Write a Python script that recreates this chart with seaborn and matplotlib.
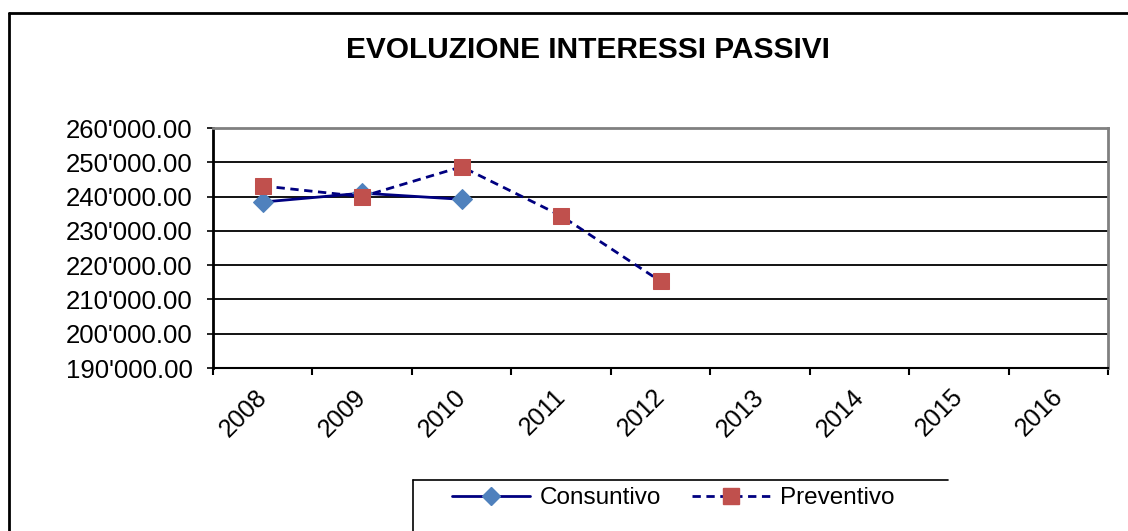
import numpy as np
import pandas as pd
import seaborn as sns
import matplotlib.pyplot as plt
from matplotlib.lines import Line2D
from matplotlib.ticker import FuncFormatter, FixedLocator
from matplotlib.transforms import ScaledTranslation

# data
years = [2008, 2009, 2010, 2011, 2012, 2013, 2014, 2015, 2016]
consuntivo_years = [2008, 2009, 2010]
consuntivo = [238400, 241000, 239200]
preventivo_years = [2008, 2009, 2010, 2011, 2012]
preventivo = [243100, 240000, 248700, 234400, 215300]
y_ticks = [190000, 200000, 210000, 220000, 230000, 240000, 250000, 260000]

NAVY = "#000080"
BLUE = "#4F81BD"
RED = "#C0504D"

sns.set_style("white")
plt.rcParams["font.family"] = ["Liberation Sans", "DejaVu Sans"]
plt.rcParams["text.color"] = "black"
plt.rcParams["xtick.color"] = "black"
plt.rcParams["ytick.color"] = "black"

fig, ax = plt.subplots(figsize=(11.28, 5.31), dpi=100)
fig.subplots_adjust(left=213 / 1128, right=1108 / 1128, top=1 - 128 / 531, bottom=1 - 368 / 531)

df_c = pd.DataFrame({"year": consuntivo_years, "value": consuntivo})
df_p = pd.DataFrame({"year": preventivo_years, "value": preventivo})

sns.lineplot(data=df_c, x="year", y="value", ax=ax, color=NAVY, linewidth=2,
             marker="D", markersize=10, markerfacecolor=BLUE, markeredgecolor=BLUE, zorder=4)
sns.lineplot(data=df_p, x="year", y="value", ax=ax, color=NAVY, linewidth=2,
             linestyle=(0, (3, 2)), marker="s", markersize=12,
             markerfacecolor=RED, markeredgecolor=RED, zorder=5)

ax.set_xlim(years[0] - 0.5, years[-1] + 0.5)
ax.set_ylim(y_ticks[0], y_ticks[-1])
ax.set_xlabel("")
ax.set_ylabel("")

# category axis: ticks at the boundaries, labels at the centres
ax.xaxis.set_major_locator(FixedLocator([y - 0.5 for y in years] + [years[-1] + 0.5]))
ax.xaxis.set_minor_locator(FixedLocator(years))
ax.set_xticklabels([], minor=False)
ax.set_xticklabels([str(y) for y in years], minor=True, rotation=45, ha="right")
ax.tick_params(axis="x", which="major", length=5, width=1.5, color="black", direction="out", bottom=True)
ax.tick_params(axis="x", which="minor", length=0, pad=12, labelsize=18)
shift = ScaledTranslation(9 / 100, 0, fig.dpi_scale_trans)
for lbl in ax.get_xticklabels(minor=True):
    lbl.set_transform(lbl.get_transform() + shift)

ax.set_yticks(y_ticks)
ax.yaxis.set_major_formatter(FuncFormatter(lambda v, p: f"{v:,.2f}".replace(",", "'")))
ax.tick_params(axis="y", length=4.5, width=1.2, color="black", direction="out", left=True, pad=10, labelsize=18.5)

ax.grid(axis="y", color="black", linewidth=1.3)
ax.grid(axis="x", visible=False)
ax.spines["left"].set_color("black")
ax.spines["left"].set_linewidth(2)
ax.spines["bottom"].set_color("black")
ax.spines["bottom"].set_linewidth(1.5)
for s in ("top", "right"):
    ax.spines[s].set_color("#808080")
    ax.spines[s].set_linewidth(2)

fig.text(588 / 1128, 1 - 50 / 531, "EVOLUZIONE INTERESSI PASSIVI", ha="center", va="center",
         fontsize=21.5, fontweight="bold")

# legend
handles = [
    Line2D([], [], color=NAVY, linewidth=2, marker="D", markersize=9, markerfacecolor=BLUE, markeredgecolor=BLUE),
    Line2D([], [], color=NAVY, linewidth=2, linestyle=(0, (3, 2)), marker="s", markersize=11,
           markerfacecolor=RED, markeredgecolor=RED),
]
fig.legend(handles, ["Consuntivo", "Preventivo"], loc="center left",
           bbox_to_anchor=(430 / 1128, 1 - 498 / 531), ncol=2, frameon=False,
           fontsize=17.5, handlelength=3.2, handletextpad=0.4, columnspacing=1.3)

# outer chart frame and legend frame (cropped in the original)
fig.add_artist(Line2D([9 / 1128, 9 / 1128], [0, 1 - 13 / 531], transform=fig.transFigure, color="black", linewidth=2))
fig.add_artist(Line2D([9 / 1128, 1], [1 - 13 / 531, 1 - 13 / 531], transform=fig.transFigure, color="black", linewidth=2))
fig.add_artist(Line2D([413 / 1128, 413 / 1128], [0, 1 - 480 / 531], transform=fig.transFigure, color="black", linewidth=1.2))
fig.add_artist(Line2D([413 / 1128, 948 / 1128], [1 - 480 / 531, 1 - 480 / 531], transform=fig.transFigure, color="black", linewidth=1.2))

fig.savefig("out.png", dpi=100)
